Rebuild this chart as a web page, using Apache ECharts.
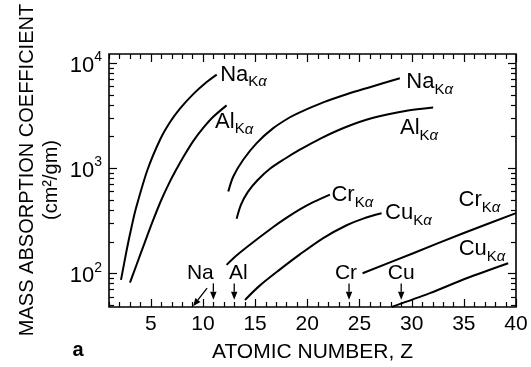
<!DOCTYPE html>
<html><head><meta charset="utf-8">
<script src="https://cdn.jsdelivr.net/npm/echarts@6/dist/echarts.min.js"></script>
<style>html,body{margin:0;padding:0;background:#fff}#c{width:531px;height:367px}</style>
</head><body><div id="c"></div>
<script>
const FONT = '"Liberation Sans", Arial, Helvetica, sans-serif';

// ---- data: [atomic number Z, mass absorption coefficient (cm^2/gm)] ----
const naKaLow  = [[2.15,86.3],[2.70,167],[3.17,278],[3.59,417],[4.69,964],[5.89,1862],[6.84,2729],[7.80,3673],[9.07,5058],[10.36,6592],[11.32,7762]];
const alKaLow  = [[3.01,81.3],[3.65,121],[4.45,199],[5.21,316],[5.98,489],[6.75,716],[7.42,959],[8.18,1303],[9.07,1807],[10.03,2410],[10.99,3076],[12.27,3954]];
const naKaHigh = [[12.43,598],[12.91,832],[13.86,1200],[15.15,1730],[16.74,2399],[18.34,3048],[19.29,3396],[21.53,4217],[23.77,5047],[26.0,5888],[28.87,7161]];
const alKaHigh = [[13.23,329],[13.64,447],[14.31,594],[15.27,774],[16.42,985],[17.86,1227],[19.29,1496],[21.21,1900],[23.77,2472],[26.32,3010],[29.52,3514],[32.06,3777]];
const crKaMid  = [[12.27,120],[13.16,145.5],[14.19,176.6],[16.74,274.8],[17.96,334],[19.29,404.6],[20.57,474],[22.17,560]];
const cuKaMid  = [[14.03,55.7],[15.47,76.6],[17.39,108.7],[19.29,151],[21.53,216],[23.77,286],[25.36,331],[27.12,371.5]];
const crKaHigh = [[25.30,100],[30.15,155],[34.94,240],[40,373]];
const cuKaHigh = [[28.1,47.8],[31.75,64.6],[35.26,89.5],[39.25,124.5]];

const curves = [naKaLow, alKaLow, naKaHigh, alKaHigh, crKaMid, cuKaMid, crKaHigh, cuKaHigh];
const curveElements = ['Na','Al','Na','Al','Cr','Cu','Cr','Cu'];

// absorption-edge element markers
const elementNames = ['Na','Al','Cr','Cu'];
const elementZ = [11, 13, 24, 29];
const arrowFromValue = 80;
const arrowToValue = 56;
const extraArrow = [10.4, 72, 9.05, 48.5];

// axes
const X_MIN = 1, X_MAX = 40;
const Y_MIN = 47.7, Y_MAX = 12180;
const xTickLabels = [5,10,15,20,25,30,35,40];
const yTickLabels = [100, 1000, 10000];
const yTickExponents = ['2','3','4'];
const yMinorTicks = [50,60,70,80,90,200,300,400,500,600,700,800,900,2000,3000,4000,5000,6000,7000,8000,9000];

// ---- styles (positions / offsets, kept apart from data) ----
const labelOffsets = [[5,0],[-10,16.5],[8,4],[-31.6,20.6],[3,0.5],[5,0],[-56,-13],[-48,-14]];
const elementLabelDx = [-13, 4, -3, 0];

const chart = echarts.init(document.getElementById('c'), null, {renderer:'canvas'});

const lineSeries = curves.map(d => ({
  type:'line', data:d, symbol:'none', showSymbol:false, smooth:0.3, clip:true,
  lineStyle:{color:'#000', width:2}, silent:true, z:3
}));

const xTickData = [];
for (let z = X_MIN; z <= X_MAX; z++) xTickData.push([z, Y_MIN, xTickLabels.includes(z) ? 1 : 0]);
const yTickData = yTickLabels.map(v => [X_MIN, v, 1]).concat(yMinorTicks.map(v => [X_MIN, v, 0]));

const richMain = {
  m:{fontSize:22, lineHeight:22, verticalAlign:'top', fontFamily:FONT, color:'#000'},
  k:{fontSize:15, lineHeight:15, padding:[11,0,0,0], verticalAlign:'top', fontFamily:FONT, color:'#000'},
  a:{fontSize:15, lineHeight:15, padding:[11,0,0,0], verticalAlign:'top', fontFamily:FONT, fontStyle:'italic', color:'#000'}
};

chart.setOption({
  animation:false,
  grid:{left:109, right:15, top:54, bottom:60, show:true, borderColor:'#000', borderWidth:1.6},
  xAxis:{type:'value', min:X_MIN, max:X_MAX, interval:1,
    axisLine:{show:false}, axisTick:{show:false}, splitLine:{show:false},
    axisLabel:{formatter:v => xTickLabels.includes(v) ? String(v) : '', fontSize:21, color:'#000', fontFamily:FONT, margin:7, hideOverlap:false}},
  yAxis:{type:'log', logBase:10, min:Y_MIN, max:Y_MAX,
    axisLine:{show:false}, axisTick:{show:false}, axisLabel:{show:false}, splitLine:{show:false}},
  graphic:[
    {type:'text', x:312.5, y:352, style:{text:'ATOMIC NUMBER, Z', align:'center', verticalAlign:'middle', font:'21px '+FONT, fill:'#000'}},
    {type:'text', x:27.5, y:170, rotation:Math.PI/2, style:{text:'MASS ABSORPTION COEFFICIENT', align:'center', verticalAlign:'middle', font:'20px '+FONT, fill:'#000'}},
    {type:'text', x:51, y:180, rotation:Math.PI/2, style:{text:'(cm²/gm)', align:'center', verticalAlign:'middle', font:'20px '+FONT, fill:'#000'}},
    {type:'text', x:78, y:350, style:{text:'a', align:'center', verticalAlign:'middle', font:'bold 20px '+FONT, fill:'#000'}}
  ],
  series: lineSeries.concat([
    { // x ticks (bottom and top)
      type:'custom', silent:true, z:5, data:xTickData, encode:{x:0, y:1},
      renderItem(params, api){
        const cs = params.coordSys;
        const x = Math.round(api.coord([api.value(0), Y_MIN])[0]) + 0.5;
        const len = api.value(2) ? 8 : 5;
        const B = cs.y + cs.height, T = cs.y;
        return {type:'group', children:[
          {type:'line', shape:{x1:x, y1:B, x2:x, y2:B-len}, style:{stroke:'#000', lineWidth:1.2}},
          {type:'line', shape:{x1:x, y1:T, x2:x, y2:T+len}, style:{stroke:'#000', lineWidth:1.2}}
        ]};
      }
    },
    { // y ticks (left and right)
      type:'custom', silent:true, z:5, data:yTickData, encode:{x:0, y:1},
      renderItem(params, api){
        const cs = params.coordSys;
        const y = Math.round(api.coord([X_MIN, api.value(1)])[1]) + 0.5;
        const len = api.value(2) ? 8 : 5;
        const L = cs.x, R = cs.x + cs.width;
        return {type:'group', children:[
          {type:'line', shape:{x1:L, y1:y, x2:L+len, y2:y}, style:{stroke:'#000', lineWidth:1.2}},
          {type:'line', shape:{x1:R, y1:y, x2:R-len, y2:y}, style:{stroke:'#000', lineWidth:1.2}}
        ]};
      }
    },
    { // y tick labels 10^n
      type:'custom', silent:true, z:5, data:yTickLabels.map((v,i) => [X_MIN, v, i]), encode:{x:0, y:1},
      renderItem(params, api){
        const cs = params.coordSys;
        const p = api.coord([X_MIN, api.value(1)]);
        const e = yTickExponents[api.value(2)];
        return {type:'text', x:cs.x - 7, y:p[1] + 2.5, style:{
          text:'{b|10}{s|' + e + '}', align:'right', verticalAlign:'middle', fill:'#000',
          rich:{
            b:{fontSize:22, lineHeight:22, verticalAlign:'bottom', fontFamily:FONT, color:'#000'},
            s:{fontSize:14, lineHeight:14, padding:[0,0,12,0], verticalAlign:'bottom', fontFamily:FONT, color:'#000'}
          }}};
      }
    },
    { // curve labels
      type:'custom', silent:true, z:6,
      data:curves.map((d,i) => [d[d.length-1][0], d[d.length-1][1], i]), encode:{x:0, y:1},
      renderItem(params, api){
        const i = api.value(2);
        const p = api.coord([api.value(0), api.value(1)]);
        const off = labelOffsets[i];
        return {type:'text', x:p[0] + off[0] - 1.5, y:p[1] + off[1] - 11, style:{
          text:'{m|' + curveElements[i] + '}{k|K}{a|α}', align:'left', verticalAlign:'top', fill:'#000', rich:richMain}};
      }
    },
    { // element arrows
      type:'custom', silent:true, z:6,
      data:elementZ.map((z,i) => [z, arrowFromValue, z, arrowToValue, i]).concat([extraArrow.concat([-1])]),
      encode:{x:[0,2], y:[1,3]},
      renderItem(params, api){
        const p1 = api.coord([api.value(0), api.value(1)]);
        const p2 = api.coord([api.value(2), api.value(3)]);
        const i = api.value(4);
        const dx = p2[0]-p1[0], dy = p2[1]-p1[1], L = Math.hypot(dx,dy);
        const ux = dx/L, uy = dy/L, nx = -uy, ny = ux;
        const hl = 8, hw = 3.2;
        const bx = p2[0]-ux*hl, by = p2[1]-uy*hl;
        const children = [
          {type:'line', shape:{x1:p1[0], y1:p1[1], x2:bx, y2:by}, style:{stroke:'#000', lineWidth:1.3}},
          {type:'polygon', shape:{points:[[p2[0],p2[1]],[bx+nx*hw, by+ny*hw],[bx-nx*hw, by-ny*hw]]}, style:{fill:'#000'}}
        ];
        if (i >= 0) {
          children.push({type:'text', x:p1[0] + elementLabelDx[i], y:p1[1] - 10, style:{
            text:elementNames[i], align:'center', verticalAlign:'middle', font:'21px '+FONT, fill:'#000'}});
        }
        return {type:'group', children};
      }
    }
  ])
});
</script></body></html>
